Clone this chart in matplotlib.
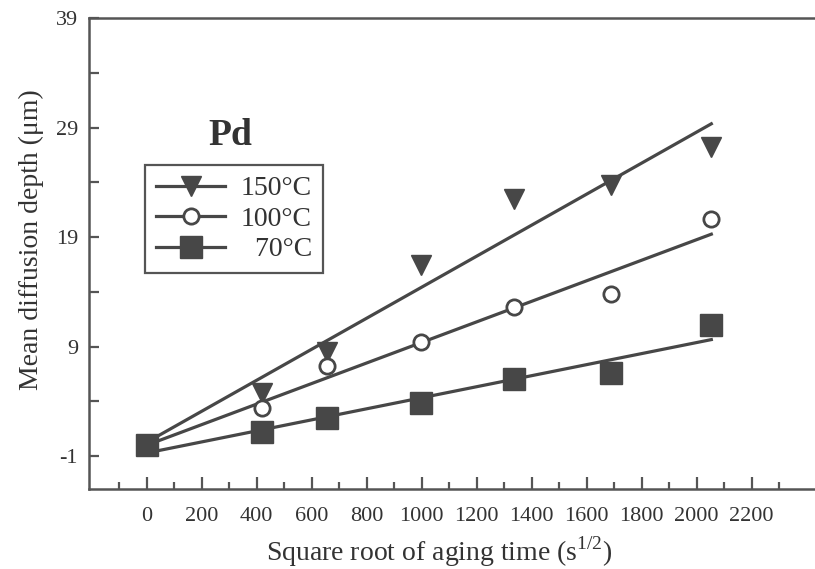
import numpy as np
import matplotlib
matplotlib.use('Agg')
import matplotlib.pyplot as plt
from matplotlib.ticker import FixedLocator

plt.rcParams['font.family'] = ['Liberation Serif', 'DejaVu Serif']
plt.rcParams['mathtext.fontset'] = 'custom'
plt.rcParams['mathtext.rm'] = 'Liberation Serif'
plt.rcParams['axes.unicode_minus'] = False

# square root of aging time (s^1/2)
x_150 = [0, 420, 654, 998, 1334, 1690, 2053]
y_150 = [0.0, 4.75, 8.5, 16.44, 22.47, 23.75, 27.19]
x_100 = [0, 420, 654, 998, 1334, 1690, 2053]
y_100 = [0.0, 3.38, 7.22, 9.44, 12.63, 13.77, 20.64]
x_70 = [0, 420, 654, 998, 1334, 1690, 2053]
y_70 = [0.0, 1.22, 2.47, 3.81, 6.0, 6.61, 10.96]

labels = ['150°C', '100°C', '  70°C']
markers = ['v', 'o', 's']
msizes = [14, 11, 16]
col = '#474747'

fig = plt.figure(figsize=(8.15, 5.69), dpi=100)
ax = fig.add_axes([0.1092, 0.1406, 0.8908, 0.8278])

series = [(x_150, y_150), (x_100, y_100), (x_70, y_70)]
handles = []
for (xs, ys), lab, mk, ms in zip(series, labels, markers, msizes):
    xs = np.array(xs, float)
    ys = np.array(ys, float)
    # linear fit line
    k, b = np.polyfit(xs, ys, 1)
    xx = np.array([0, xs.max()])
    ax.plot(xx, k * xx + b, color=col, lw=2.3, zorder=2)
    fc = 'white' if mk == 'o' else col
    ax.plot(xs, ys, linestyle='none', marker=mk, ms=ms, mfc=fc, mec=col,
            mew=2 if mk == 'o' else 1, zorder=3)
    h, = ax.plot([], [], color=col, lw=2.3, marker=mk, ms=ms, mfc=fc, mec=col,
                 mew=2 if mk == 'o' else 1)
    handles.append(h)

ax.set_xlim(-210, 2430)
ax.set_ylim(-4, 39)

ax.xaxis.set_minor_locator(FixedLocator(np.arange(-100, 2400, 200)))
ax.set_xticks(np.arange(0, 2201, 200))
ax.yaxis.set_major_locator(FixedLocator([-1, 9, 19, 29, 39]))
ax.yaxis.set_minor_locator(FixedLocator([4, 14, 24, 34]))

ax.tick_params(axis='x', which='major', direction='in', length=9, width=1.6,
               colors='#555555', labelcolor='#333333', labelsize=16, pad=13)
ax.tick_params(axis='x', which='minor', direction='in', length=5, width=1.6,
               colors='#555555')
ax.tick_params(axis='y', which='both', direction='in', length=7, width=1.6,
               colors='#555555', labelcolor='#333333', labelsize=16, pad=8)

ax.spines['right'].set_visible(False)
for s in ['left', 'top', 'bottom']:
    ax.spines[s].set_color('#555555')
    ax.spines[s].set_linewidth(1.8)

ax.set_xlabel('Square root of aging time (s$^{1/2}$)', fontsize=20, color='#333333')
ax.xaxis.set_label_coords(0.483, -0.097)
ax.set_ylabel('Mean diffusion depth (μm)', fontsize=20, color='#333333')
ax.yaxis.set_label_coords(-0.062, 0.53)

ax.text(0.195, 0.75, 'Pd', transform=ax.transAxes, fontsize=27, fontweight='bold',
        color='#333333', ha='center', va='center')

leg = ax.legend(handles, labels, loc='upper left', bbox_to_anchor=(0.077, 0.688),
                borderaxespad=0, fontsize=20, frameon=True, fancybox=False,
                framealpha=1, edgecolor='#555555', handlelength=2.5,
                handletextpad=0.55, labelspacing=0.18, borderpad=0.4,
                labelcolor='#333333')
leg.get_frame().set_linewidth(1.6)

fig.savefig('out.png', dpi=100)
